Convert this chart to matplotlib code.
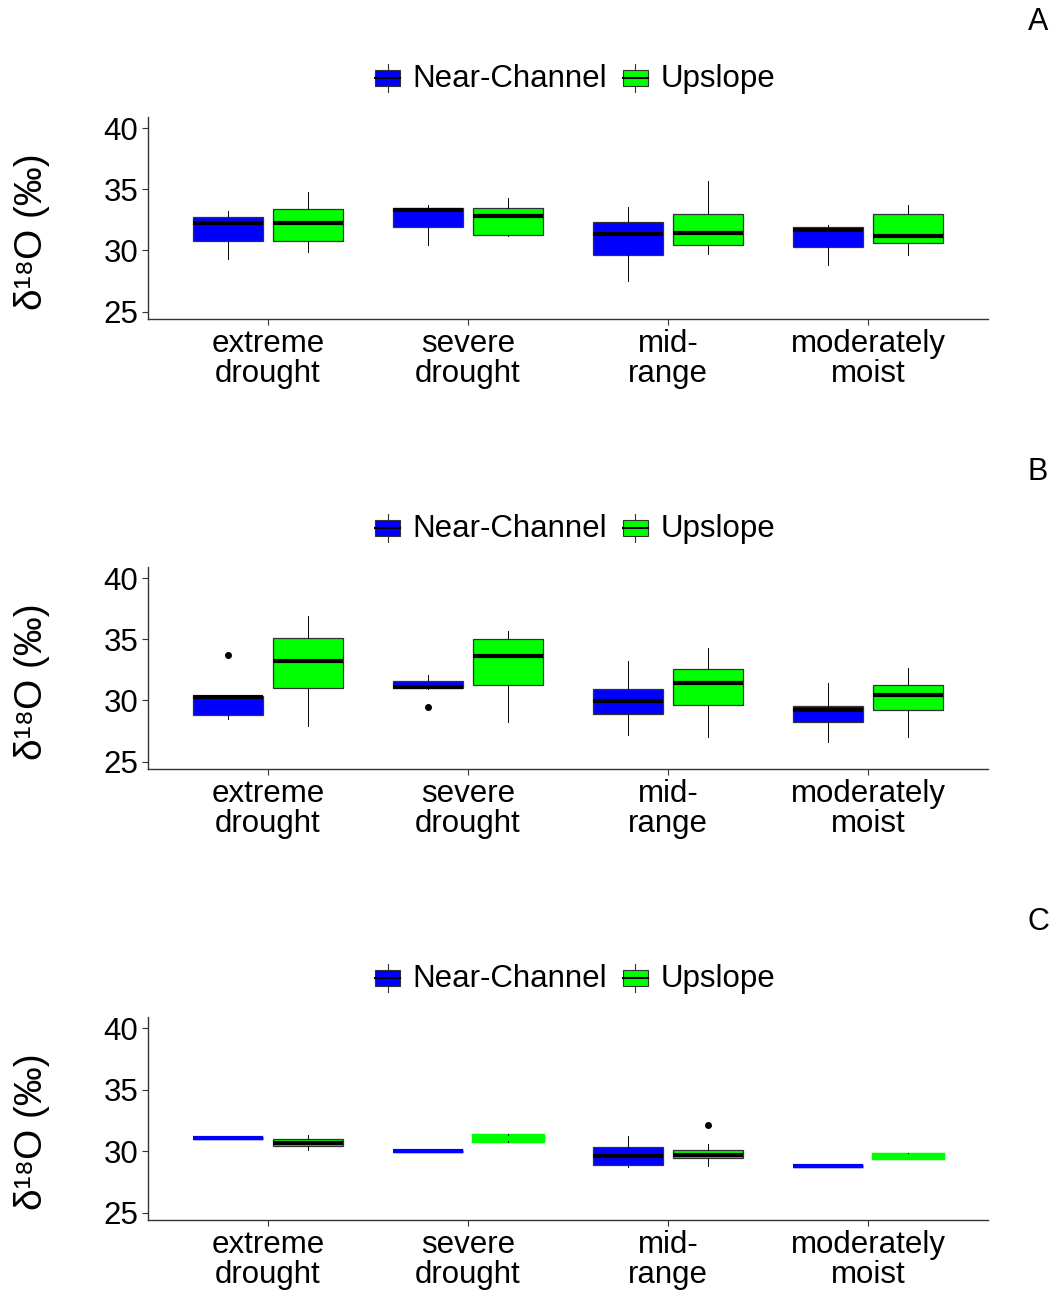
import matplotlib
matplotlib.use('Agg')
import matplotlib.pyplot as plt
from matplotlib.legend_handler import HandlerBase
from matplotlib.patches import Rectangle, Patch
from matplotlib.lines import Line2D

plt.rcParams['font.family'] = ['Liberation Sans', 'DejaVu Sans']

categories = ['extreme\ndrought', 'severe\ndrought', 'mid-\nrange', 'moderately\nmoist']
groups = ['Near-Channel', 'Upslope']
colors = ['#0000FF', '#00FF00']
panel_letters = ['A', 'B', 'C']

# five-number summaries per category: (whisker low, q1, median, q3, whisker high)
A_near = [(29.3, 30.8, 32.25, 32.75, 33.25), (30.45, 31.9, 33.3, 33.5, 33.7),
          (27.5, 29.6, 31.35, 32.3, 33.55), (28.8, 30.25, 31.7, 31.95, 32.1)]
A_up = [(29.9, 30.8, 32.25, 33.4, 34.8), (31.15, 31.3, 32.8, 33.45, 34.25),
        (29.75, 30.45, 31.4, 32.95, 35.7), (29.65, 30.6, 31.15, 32.95, 33.75)]
B_near = [(28.45, 28.85, 30.3, 30.4, 30.4), (30.95, 31.0, 31.1, 31.55, 32.05),
          (27.15, 28.9, 29.95, 30.95, 33.25), (26.6, 28.2, 29.25, 29.55, 31.4)]
B_up = [(27.95, 31.0, 33.25, 35.1, 36.9), (28.2, 31.25, 33.6, 35.05, 35.65),
        (27.05, 29.65, 31.4, 32.55, 34.3), (27.05, 29.25, 30.45, 31.25, 32.65)]
C_near = [(31.07, 31.07, 31.07, 31.07, 31.07), (30.0, 30.0, 30.0, 30.0, 30.0),
          (28.7, 28.85, 29.6, 30.35, 31.2), (28.78, 28.78, 28.78, 28.78, 28.78)]
C_up = [(30.05, 30.4, 30.65, 31.0, 31.3), (30.7, 30.85, 31.05, 31.3, 31.4),
        (28.75, 29.4, 29.7, 30.05, 30.6), (29.4, 29.45, 29.6, 29.75, 29.85)]

# outliers per category
A_near_out = [[], [], [], []]
A_up_out = [[], [], [], []]
B_near_out = [[33.7], [29.45], [], []]
B_up_out = [[], [], [], []]
C_near_out = [[], [], [], []]
C_up_out = [[], [], [32.15], []]

panels = [
    ((A_near, A_near_out), (A_up, A_up_out)),
    ((B_near, B_near_out), (B_up, B_up_out)),
    ((C_near, C_near_out), (C_up, C_up_out)),
]


class BoxHandler(HandlerBase):
    # little boxplot glyph for the legend keys
    def create_artists(self, legend, orig, xd, yd, w, h, fs, trans):
        fc = orig.get_facecolor()
        cx = xd + w / 2
        wl = Line2D([cx, cx], [yd - 0.2 * h, yd + 1.2 * h], color='#333333', lw=0.8, transform=trans)
        r = Rectangle((xd, yd + 0.1 * h), w, 0.8 * h, facecolor=fc, edgecolor='#333333', lw=0.8, transform=trans)
        md = Line2D([xd, xd + w], [yd + h / 2, yd + h / 2], color='black', lw=1.5, transform=trans)
        return [wl, r, md]


fig = plt.figure(figsize=(10.56, 12.93), dpi=100)
W, H = 1056.0, 1293.0
ax_left, ax_right = 148 / W, 988 / W
tops = [117, 567, 1017]
bottoms = [319, 769, 1220]

for p, (top, bot) in enumerate(zip(tops, bottoms)):
    ax = fig.add_axes([ax_left, 1 - bot / H, ax_right - ax_left, (bot - top) / H])
    for g, (stats5, outs) in enumerate(panels[p]):
        off = -0.2 if g == 0 else 0.2
        for i, (lo, q1, med, q3, hi) in enumerate(stats5):
            st = dict(whislo=lo, q1=q1, med=med, q3=q3, whishi=hi, fliers=outs[i])
            flat = (q3 - q1) < 0.5
            ec = colors[g] if flat else '#333333'
            mc = colors[g] if flat else 'black'
            ax.bxp([st], positions=[i + 1 + off], widths=0.35, patch_artist=True,
                   showcaps=False,
                   boxprops=dict(facecolor=colors[g], edgecolor=ec, lw=2.5 if flat else 0.9),
                   medianprops=dict(color=mc, lw=3),
                   whiskerprops=dict(color='black', lw=0.7),
                   flierprops=dict(marker='o', markerfacecolor='black', markeredgecolor='black',
                                   markersize=4))
    ax.set_xlim(0.4, 4.6)
    ax.set_ylim(24.4, 40.9)
    ax.set_yticks([25, 30, 35, 40])
    ax.set_xticks([1, 2, 3, 4])
    ax.set_xticklabels(categories, linespacing=1.0)
    for s in ['top', 'right']:
        ax.spines[s].set_visible(False)
    for s in ['left', 'bottom']:
        ax.spines[s].set_color('#333333')
        ax.spines[s].set_linewidth(1.0)
    ax.tick_params(axis='both', labelsize=22.5, colors='#333333', labelcolor='black',
                   length=4, width=0.8, pad=3)

    handles = [Patch(facecolor=c, label=l) for c, l in zip(colors, groups)]
    ax.legend(handles=handles, loc='center', bbox_to_anchor=(575 / W, 1 - (top - 38) / H),
              bbox_transform=fig.transFigure, ncol=2, frameon=False, fontsize=22.5,
              handler_map={Patch: BoxHandler()}, handlelength=0.8, handleheight=0.6,
              handletextpad=0.4, columnspacing=0.5)

    fig.text(32 / W, 1 - (top + 115) / H, 'δ¹⁸O (‰)', rotation=90, fontsize=28,
             ha='center', va='center')
    fig.text(1038 / W, 1 - (top - 95) / H, panel_letters[p], fontsize=22, ha='center', va='center')

fig.savefig('out.png', dpi=100)
